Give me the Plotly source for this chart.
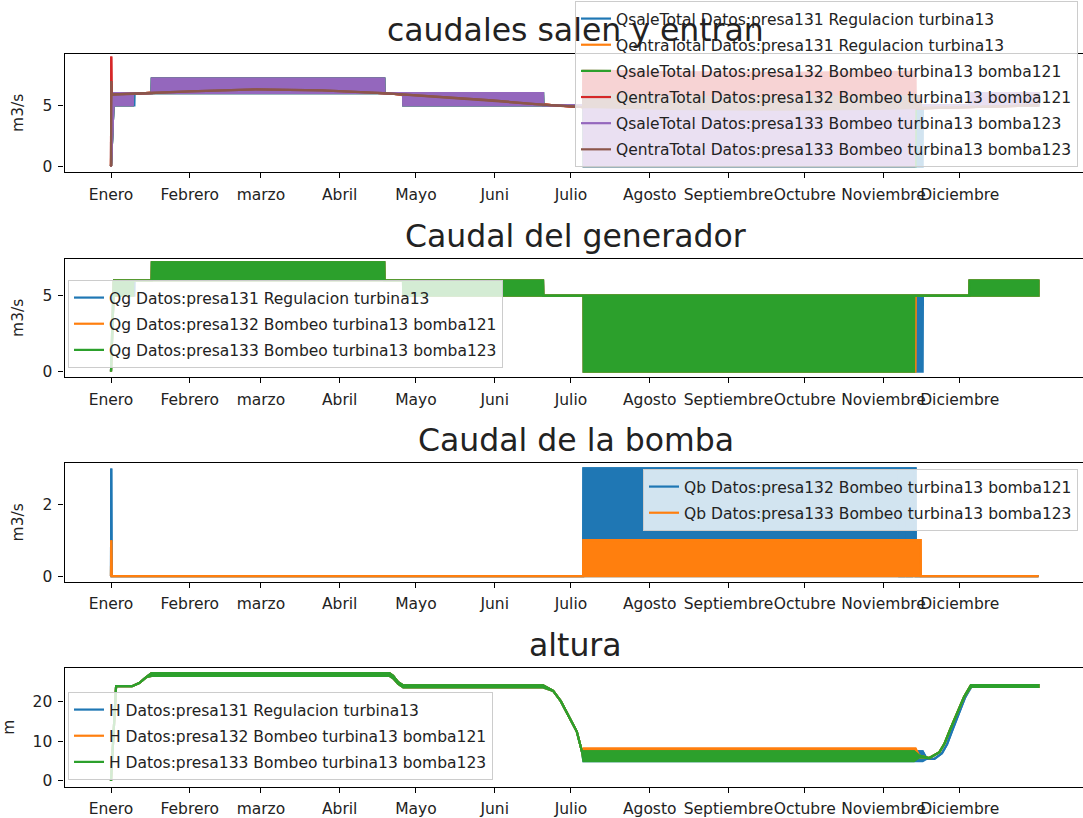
import plotly.graph_objects as go
from plotly.subplots import make_subplots

# eje x en dias del año, etiquetas de mes
dias_mes = [0, 31, 59, 90, 120, 151, 181, 212, 243, 273, 304, 334]
meses = ['Enero', 'Febrero', 'marzo', 'Abril', 'Mayo', 'Juni', 'Julio',
         'Agosto', 'Septiembre', 'Octubre', 'Noviembre', 'Diciembre']

# Caudal del generador (banda min/max de la oscilacion horaria)
qg133_dias = [0, 1.0, 1.2, 8.6, 8.7, 16.0, 16.1, 107.5, 107.6, 114.9, 115.0, 170.0, 170.1, 185.9, 186.0, 316.0, 316.1, 337.8, 337.9, 365]
qg133_min = [0, 6, 5, 5, 6, 6, 6, 6, 6, 6, 5, 5, 5, 5, 0, 0, 5, 5, 5, 5]
qg133_max = [0, 6, 6, 6, 6, 6, 7.2, 7.2, 6, 6, 6, 6, 5, 5, 5, 5, 5, 5, 6, 6]

qg132_dias = [0, 1.0, 1.2, 8.6, 8.7, 16.0, 16.1, 107.5, 107.6, 114.9, 115.0, 170.0, 170.1, 185.9, 186.0, 316.6, 316.7, 337.8, 337.9, 365]
qg132_min = qg133_min
qg132_max = qg133_max

qg131_dias = [0, 1.0, 1.2, 9.2, 9.3, 16.0, 16.1, 107.5, 107.6, 114.9, 115.0, 170.0, 170.1, 185.9, 186.0, 319.4, 319.5, 337.8, 337.9, 365]
qg131_min = qg133_min
qg131_max = qg133_max

# Caudal que entra (aporte + bombeo)
qe131_dias = [0, 0.25, 1, 31, 57, 83, 107, 122, 150, 167, 177, 186, 220, 260, 300, 340, 365]
qe131_val = [0, 5.85, 5.9, 6.15, 6.3, 6.23, 6.0, 5.8, 5.4, 5.1, 4.95, 4.85, 4.7, 4.65, 4.7, 4.85, 5.0]

qe132_dias = [0, 0.1, 0.25, 1, 31, 57, 83, 107, 122, 150, 167, 177, 185.8, 185.9, 220, 260, 300, 316.5, 316.6, 340, 365]
qe132_min = [0, 9, 5.85, 5.9, 6.15, 6.3, 6.23, 6.0, 5.8, 5.4, 5.1, 4.95, 4.86, 4.86, 4.7, 4.65, 4.7, 4.75, 4.75, 4.85, 5.0]
qe132_max = [0, 9, 5.85, 5.9, 6.15, 6.3, 6.23, 6.0, 5.8, 5.4, 5.1, 4.95, 4.86, 7.86, 7.7, 7.65, 7.7, 7.75, 4.75, 4.85, 5.0]

qe133_dias = [0, 0.1, 0.25, 1, 31, 57, 83, 107, 122, 150, 167, 177, 185.8, 185.9, 220, 260, 300, 318.6, 318.7, 340, 365]
qe133_min = [0, 7, 5.85, 5.9, 6.15, 6.3, 6.23, 6.0, 5.8, 5.4, 5.1, 4.95, 4.86, 4.86, 4.7, 4.65, 4.7, 4.75, 4.75, 4.85, 5.0]
qe133_max = [0, 7, 5.85, 5.9, 6.15, 6.3, 6.23, 6.0, 5.8, 5.4, 5.1, 4.95, 4.86, 5.86, 5.7, 5.65, 5.7, 5.75, 4.75, 4.85, 5.0]

# Caudal de la bomba
qb132_dias = [0, 0.1, 0.25, 185.8, 185.9, 310.1, 310.2, 310.8, 310.9, 311.5, 311.6, 312.2, 312.3, 313.1, 313.2, 313.8, 313.9, 314.5, 314.6, 315.2, 315.3, 316.6, 316.7, 365]
qb132_max = [0, 3, 0, 0, 3, 3, 0, 0, 3, 3, 0, 0, 3, 3, 0, 0, 3, 3, 0, 0, 3, 3, 0, 0]
qb132_min = [0] * len(qb132_dias)

qb133_dias = [0, 0.1, 0.25, 185.8, 185.9, 318.6, 318.7, 365]
qb133_max = [0, 1, 0, 0, 1, 1, 0, 0]
qb133_min = [0] * len(qb133_dias)

# altura
h133_dias = [0, 2.0, 8.3, 11.1, 13.9, 16.0, 109.5, 111, 113, 115, 170, 174, 177, 180.6, 183.3, 185.3, 185.9, 316.0, 318, 322, 326, 328, 330.3, 335.7, 338.4, 365]
h133_min = [0, 24, 24, 24.8, 26.3, 26.6, 26.6, 26.0, 24.6, 23.7, 23.7, 22.8, 20.2, 15.8, 12.5, 7.5, 5.0, 5.0, 6.0, 5.8, 7.3, 9.5, 13.2, 21.3, 23.8, 23.8]
h133_max = [0, 24, 24, 24.8, 26.3, 27.3, 27.3, 26.6, 25.0, 24.2, 24.2, 22.8, 20.2, 15.8, 12.5, 7.5, 7.5, 7.5, 6.4, 5.8, 7.3, 9.5, 13.2, 21.3, 24.3, 24.3]

h132_dias = [0, 2.0, 8.3, 11.1, 13.9, 16.0, 109.5, 111, 113, 115, 170, 174, 177, 180.6, 183.3, 185.3, 185.9, 316.6, 318, 322, 326, 328, 330.3, 335.7, 338.4, 365]
h132_min = [0, 24, 24, 24.8, 26.3, 26.6, 26.6, 26.0, 24.6, 23.7, 23.7, 22.8, 20.2, 15.8, 12.5, 7.5, 5.5, 5.5, 6.0, 5.8, 7.3, 9.5, 13.2, 21.3, 23.8, 23.8]
h132_max = [0, 24, 24, 24.8, 26.3, 27.3, 27.3, 26.6, 25.0, 24.2, 24.2, 22.8, 20.2, 15.8, 12.5, 7.5, 8.2, 8.2, 6.4, 5.8, 7.3, 9.5, 13.2, 21.3, 24.3, 24.3]

h131_dias = [0, 2.0, 8.3, 11.1, 13.9, 16.0, 109.5, 111, 113, 115, 170, 174, 177, 180.6, 183.3, 185.3, 185.9, 319.4, 321, 324, 327, 329, 331, 336, 338.6, 365]
h131_min = [0, 24, 24, 24.8, 26.3, 26.6, 26.6, 26.0, 24.6, 23.7, 23.7, 22.8, 20.2, 15.8, 12.5, 7.5, 5.0, 5.0, 5.6, 5.6, 7.0, 9.3, 12.8, 21.0, 23.8, 23.8]
h131_max = [0, 24, 24, 24.8, 26.3, 27.3, 27.3, 26.6, 25.0, 24.2, 24.2, 22.8, 20.2, 15.8, 12.5, 7.5, 7.5, 7.5, 5.6, 5.6, 7.0, 9.3, 12.8, 21.0, 24.3, 24.3]

AZUL, NARANJA, VERDE = '#1f77b4', '#ff7f0e', '#2ca02c'
ROJO, MORADO, MARRON = '#d62728', '#9467bd', '#8c564b'
FUENTE = 'DejaVu Sans'
LW = 2.2
W, H = 1083, 818

fig = make_subplots(rows=4, cols=1)


def banda(dias, bajo, alto, color, nombre, fila, leyenda):
    # relleno entre min y max, y la linea para la leyenda
    fig.add_trace(go.Scatter(x=dias + dias[::-1], y=alto + bajo[::-1], fill='toself',
                             fillcolor=color, mode='lines', line=dict(color=color, width=LW),
                             hoverinfo='skip', showlegend=False, legendgroup=nombre,
                             legend=leyenda), row=fila, col=1)
    fig.add_trace(go.Scatter(x=dias, y=alto, mode='lines', line=dict(color=color, width=LW),
                             name=nombre, legendgroup=nombre, legend=leyenda), row=fila, col=1)


banda(qg131_dias, qg131_min, qg131_max, AZUL, 'QsaleTotal Datos:presa131 Regulacion turbina13', 1, 'legend')
banda(qe131_dias, qe131_val, qe131_val, NARANJA, 'QentraTotal Datos:presa131 Regulacion turbina13', 1, 'legend')
banda(qg132_dias, qg132_min, qg132_max, VERDE, 'QsaleTotal Datos:presa132 Bombeo turbina13 bomba121', 1, 'legend')
banda(qe132_dias, qe132_min, qe132_max, ROJO, 'QentraTotal Datos:presa132 Bombeo turbina13 bomba121', 1, 'legend')
banda(qg133_dias, qg133_min, qg133_max, MORADO, 'QsaleTotal Datos:presa133 Bombeo turbina13 bomba123', 1, 'legend')
banda(qe133_dias, qe133_min, qe133_max, MARRON, 'QentraTotal Datos:presa133 Bombeo turbina13 bomba123', 1, 'legend')

banda(qg131_dias, qg131_min, qg131_max, AZUL, 'Qg Datos:presa131 Regulacion turbina13', 2, 'legend2')
banda(qg132_dias, qg132_min, qg132_max, NARANJA, 'Qg Datos:presa132 Bombeo turbina13 bomba121', 2, 'legend2')
banda(qg133_dias, qg133_min, qg133_max, VERDE, 'Qg Datos:presa133 Bombeo turbina13 bomba123', 2, 'legend2')

banda(qb132_dias, qb132_min, qb132_max, AZUL, 'Qb Datos:presa132 Bombeo turbina13 bomba121', 3, 'legend3')
banda(qb133_dias, qb133_min, qb133_max, NARANJA, 'Qb Datos:presa133 Bombeo turbina13 bomba123', 3, 'legend3')

banda(h131_dias, h131_min, h131_max, AZUL, 'H Datos:presa131 Regulacion turbina13', 4, 'legend4')
banda(h132_dias, h132_min, h132_max, NARANJA, 'H Datos:presa132 Bombeo turbina13 bomba121', 4, 'legend4')
banda(h133_dias, h133_min, h133_max, VERDE, 'H Datos:presa133 Bombeo turbina13 bomba123', 4, 'legend4')

# posiciones de los paneles (px desde arriba)
tops = [53.5, 258.5, 463, 668]
alto_panel = 118.5
rangos_y = [[-0.47, 9.25], [-0.36, 7.45], [-0.15, 3.15], [-1.4, 28.6]]
dticks = [5, 5, 2, 10]
ytitulos = ['m3/s', 'm3/s', 'm3/s', 'm']
titulos = ['caudales salen y entran', 'Caudal del generador', 'Caudal de la bomba', 'altura']

for i in range(4):
    y0 = 1 - (tops[i] + alto_panel) / H
    y1 = 1 - tops[i] / H
    fig.update_xaxes(domain=[64.5 / W, 1], range=[-18.3, 382.5], tickvals=dias_mes, ticktext=meses,
                     tickangle=0, ticks='outside', ticklen=5, tickwidth=1.1, tickcolor='black',
                     showline=True, linecolor='black', linewidth=1.2, mirror=True, showgrid=False,
                     zeroline=False, automargin=False, ticklabelstandoff=3,
                     tickfont=dict(family=FUENTE, size=15.5, color='#222'), row=i + 1, col=1)
    fig.update_yaxes(domain=[y0, y1], range=rangos_y[i], dtick=dticks[i], tick0=0,
                     ticks='outside', ticklen=5, tickwidth=1.1, tickcolor='black',
                     showline=True, linecolor='black', linewidth=1.2, mirror=False, showgrid=False,
                     zeroline=False, automargin=False, ticklabelstandoff=3,
                     tickfont=dict(family=FUENTE, size=15.5, color='#222'),
                     title=dict(text=ytitulos[i], standoff=14, font=dict(family=FUENTE, size=15.5, color='#222')),
                     row=i + 1, col=1)
    fig.add_annotation(text=titulos[i], xref='paper', yref='paper', x=575.5 / W, y=y1,
                       xanchor='center', yanchor='bottom', yshift=3, showarrow=False,
                       font=dict(family=FUENTE, size=31.5, color='#222'))

caja = dict(bgcolor='rgba(255,255,255,0.8)', bordercolor='#cccccc', borderwidth=1,
            font=dict(family=FUENTE, size=15.5, color='#222'), tracegroupgap=3, itemwidth=30)

fig.update_layout(
    width=W, height=H,
    template='none',
    paper_bgcolor='white', plot_bgcolor='white',
    margin=dict(l=0, r=0, t=0, b=0),
    font=dict(family=FUENTE, size=15.5, color='#222'),
    legend=dict(x=1078 / W, xanchor='right', y=1 - 1 / H, yanchor='top', **caja),
    legend2=dict(x=68 / W, xanchor='left', y=1 - 368 / H, yanchor='bottom', **caja),
    legend3=dict(x=1078 / W, xanchor='right', y=1 - 469 / H, yanchor='top', **caja),
    legend4=dict(x=68 / W, xanchor='left', y=1 - 780 / H, yanchor='bottom', **caja),
)

# sin margen del body para que la figura empiece en (0, 0)
fig.write_html("out.html", config={'displayModeBar': False},
               post_script="document.body.style.margin='0';")
